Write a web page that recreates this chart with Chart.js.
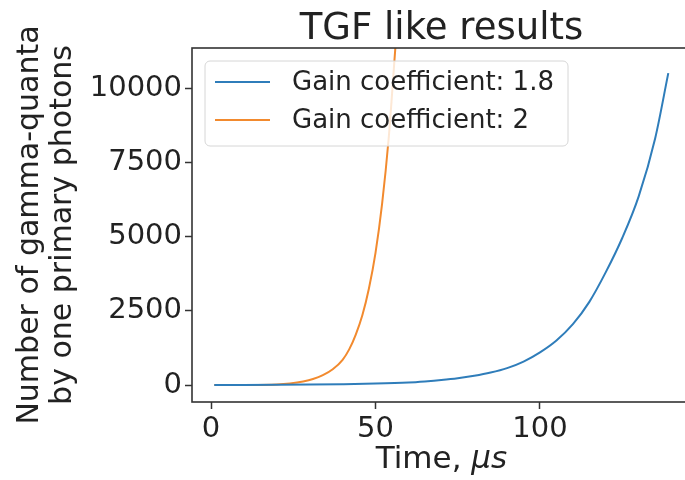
<!DOCTYPE html>
<html>
<head>
<meta charset="utf-8">
<title>TGF like results</title>
<script src="https://cdn.jsdelivr.net/npm/chart.js@4.4.0/dist/chart.umd.min.js"></script>
<style>
  html, body { margin: 0; padding: 0; background: #fff; overflow: hidden; }
  #wrap { width: 685px; height: 480px; overflow: hidden; }
</style>
</head>
<body>
<div id="wrap"><canvas id="tgfChart" width="700" height="480"></canvas></div>
<script>
/* data */
const blueTimes  = [1, 10, 20, 30, 40, 50, 60, 65, 70, 75, 80, 85, 90, 95, 100, 105, 110, 115, 120, 125, 130, 135, 139];
const blueValues = [0, 2, 8, 16, 28, 48, 85, 120, 165, 225, 310, 420, 570, 790, 1100, 1500, 2050, 2800, 3800, 4950, 6350, 8300, 10500];

const orangeTimes  = [1, 10, 20, 24, 28, 31, 34, 37, 40, 42, 44, 46, 48, 50, 52, 54, 56, 57];
const orangeValues = [0, 2, 20, 55, 120, 200, 330, 530, 850, 1200, 1700, 2350, 3250, 4450, 6100, 8300, 11300, 12800];

const seriesLabels = ['Gain coefficient: 1.8', 'Gain coefficient: 2'];
const xTicks = [0, 50, 100];
const yTicks = [0, 2500, 5000, 7500, 10000];

const FONT = "'DejaVu Sans', 'Liberation Sans', sans-serif";
const SPINE = '#333';
const TEXT = '#222';

const toPoints = (xs, ys) => xs.map((x, i) => ({ x: x, y: ys[i] }));

// box round the axes (top/right spines too)
const spines = {
  id: 'spines',
  afterDatasetsDraw(chart) {
    const { ctx, chartArea: a } = chart;
    ctx.save();
    ctx.strokeStyle = SPINE;
    ctx.lineWidth = 1.6;
    ctx.strokeRect(a.left, a.top, a.right - a.left, a.bottom - a.top);
    ctx.restore();
  }
};

// legend inside the axes, upper left
const innerLegend = {
  id: 'innerLegend',
  afterDatasetsDraw(chart) {
    const { ctx } = chart;
    const x0 = 205, y0 = 61, w = 363, h = 85;
    ctx.save();
    ctx.beginPath();
    ctx.roundRect(x0, y0, w, h, 5);
    ctx.fillStyle = 'rgba(255,255,255,0.8)';
    ctx.fill();
    ctx.strokeStyle = '#d6d6d6';
    ctx.lineWidth = 1;
    ctx.stroke();
    ctx.font = '26px ' + FONT;
    ctx.textBaseline = 'middle';
    ctx.textAlign = 'left';
    chart.data.datasets.forEach((ds, i) => {
      const y = 82 + i * 38;
      ctx.beginPath();
      ctx.moveTo(215, y);
      ctx.lineTo(270, y);
      ctx.strokeStyle = ds.borderColor;
      ctx.lineWidth = 2;
      ctx.stroke();
      ctx.fillStyle = TEXT;
      ctx.fillText(ds.label, 292, y + 1);
    });
    ctx.restore();
  }
};

// title and x label (italic mu-s), centred on the axes
const texts = {
  id: 'texts',
  afterDraw(chart) {
    const { ctx, chartArea: a } = chart;
    const cx = (a.left + a.right) / 2;
    ctx.save();
    ctx.fillStyle = TEXT;

    ctx.textAlign = 'center';
    ctx.textBaseline = 'alphabetic';
    ctx.font = '37px ' + FONT;
    ctx.fillText('TGF like results', cx, 39);

    const plain = 'Time, ';
    const ital = 'μs';
    ctx.textBaseline = 'middle';
    ctx.textAlign = 'left';
    ctx.font = '31px ' + FONT;
    const w1 = ctx.measureText(plain).width;
    ctx.font = 'italic 31px ' + FONT;
    const w2 = ctx.measureText(ital).width;
    const x = cx - (w1 + w2) / 2;
    ctx.font = '31px ' + FONT;
    ctx.fillText(plain, x, 460);
    ctx.font = 'italic 31px ' + FONT;
    ctx.fillText(ital, x + w1, 460);
    ctx.restore();
  }
};

new Chart(document.getElementById('tgfChart'), {
  type: 'line',
  data: {
    datasets: [
      {
        label: seriesLabels[0],
        data: toPoints(blueTimes, blueValues),
        borderColor: '#2f7dba',
        borderWidth: 2,
        pointRadius: 0,
        cubicInterpolationMode: 'monotone',
        fill: false
      },
      {
        label: seriesLabels[1],
        data: toPoints(orangeTimes, orangeValues),
        borderColor: '#f28a2e',
        borderWidth: 2,
        pointRadius: 0,
        cubicInterpolationMode: 'monotone',
        fill: false
      }
    ]
  },
  options: {
    responsive: false,
    animation: false,
    events: [],
    layout: { padding: { left: 0, right: 9, top: 48, bottom: 0 } },
    plugins: {
      legend: { display: false },
      tooltip: { enabled: false },
      title: { display: false }
    },
    scales: {
      x: {
        type: 'linear',
        min: -5.78,
        max: 145.9,
        afterBuildTicks: s => { s.ticks = xTicks.map(v => ({ value: v })); },
        afterFit: s => { s.height = 78; },
        grid: { drawOnChartArea: false, drawTicks: true, tickLength: 7, tickColor: SPINE, tickWidth: 1.5 },
        border: { display: false },
        ticks: { color: TEXT, padding: 3, maxRotation: 0, font: { family: FONT, size: 29 }, callback: v => String(v) },
        title: { display: false }
      },
      y: {
        type: 'linear',
        min: -572,
        max: 11347,
        afterBuildTicks: s => { s.ticks = yTicks.map(v => ({ value: v })); },
        afterFit: s => { s.width = 192; },
        grid: { drawOnChartArea: false, drawTicks: true, tickLength: 7, tickColor: SPINE, tickWidth: 1.5 },
        border: { display: false },
        ticks: { color: TEXT, padding: 3, font: { family: FONT, size: 29 }, callback: v => String(v) },
        title: {
          display: true,
          text: ['Number of gamma-quanta', 'by one primary photons'],
          color: TEXT,
          font: { family: FONT, size: 30, lineHeight: 1.1 },
          padding: { top: 13.5, bottom: 0 }
        }
      }
    }
  },
  plugins: [spines, innerLegend, texts]
});
</script>
</body>
</html>
